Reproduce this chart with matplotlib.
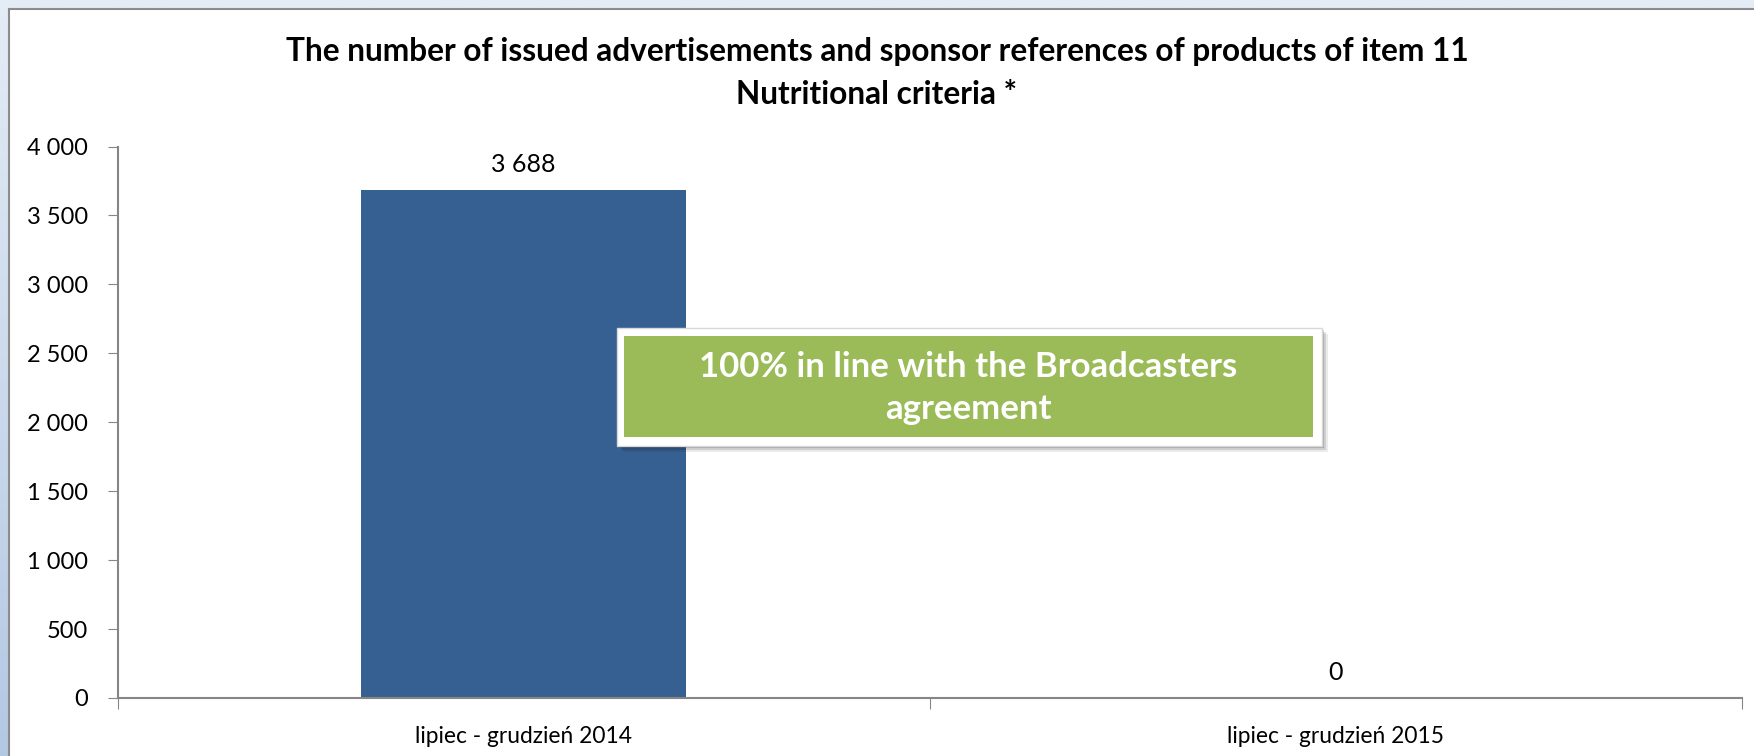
import numpy as np
import matplotlib.pyplot as plt
from matplotlib.patches import Rectangle

# data
categories = ['lipiec - grudzień 2014', 'lipiec - grudzień 2015']
values = [3688, 0]
yticks = [0, 500, 1000, 1500, 2000, 2500, 3000, 3500, 4000]

title = 'The number of issued advertisements and sponsor references of products of item 11\nNutritional criteria *'
note = '100% in line with the Broadcasters\nagreement'

plt.rcParams['font.family'] = ['Lato', 'DejaVu Sans']

W, H = 1754, 756
fig = plt.figure(figsize=(W / 100, H / 100), dpi=100)

# light blue frame behind the chart area
bg = fig.add_axes([0, 0, 1, 1], zorder=-10)
grad = np.linspace(0, 1, 256).reshape(-1, 1)
bg.imshow(grad, aspect='auto', cmap=plt.matplotlib.colors.LinearSegmentedColormap.from_list(
    'bgb', ['#e4ecf6', '#b3c8e3']), extent=[0, 1, 0, 1], origin='upper')
bg.set_axis_off()
bg.add_patch(Rectangle((9 / W, -0.1), 1.2, 1 - 9 / H + 0.1, transform=bg.transAxes,
                       facecolor='white', edgecolor='#8c8c8c', linewidth=1.5))
bg.set_xlim(0, 1)
bg.set_ylim(0, 1)

ax = fig.add_axes([117.5 / W, 1 - 698 / H, (1742 - 117.5) / W, (698 - 146.5) / H])
ax.set_facecolor('none')

x = np.arange(len(categories))
ax.bar(x, values, width=0.4, color='#366092', zorder=2)
for xi, v in zip(x, values):
    ax.text(xi, v + 100, f'{v:,}'.replace(',', ' '), ha='center', va='bottom', fontsize=18)

ax.set_xlim(-0.5, 1.5)
ax.set_ylim(0, 4000)
ax.set_yticks(yticks)
ax.set_yticklabels([f'{t:,}'.replace(',', ' ') for t in yticks], fontsize=17)
ax.set_xticks([-0.5, 0.5, 1.5])
ax.set_xticklabels([])
ax.set_xticks(x, minor=True)
ax.set_xticklabels(categories, minor=True, fontsize=16.4)
ax.tick_params(axis='x', which='minor', length=0, pad=20)
ax.tick_params(axis='x', which='major', length=8, color='#868686', direction='out')
ax.tick_params(axis='y', length=7, color='#868686', pad=14)
for s in ['top', 'right']:
    ax.spines[s].set_visible(False)
for s in ['left', 'bottom']:
    ax.spines[s].set_color('#868686')
    ax.spines[s].set_linewidth(1.5)

fig.text(877 / W, 1 - 73 / H, title, ha='center', va='center', fontsize=22.8,
         fontweight='bold', linespacing=1.55)

# green callout box with white border and soft shadow
for off, a in [(6, 0.08), (4, 0.12), (2, 0.18)]:
    fig.patches.append(Rectangle(((617 + off) / W, 1 - (446 + off) / H), 705 / W, 118 / H,
                                 transform=fig.transFigure, facecolor='black', alpha=a,
                                 edgecolor='none', zorder=5))
fig.patches.append(Rectangle((617 / W, 1 - 446 / H), 705 / W, 118 / H, transform=fig.transFigure,
                             facecolor='white', edgecolor='#d9d9d9', linewidth=1, zorder=6))
fig.patches.append(Rectangle((624 / W, 1 - 437 / H), 689 / W, 101 / H, transform=fig.transFigure,
                             facecolor='#9bbb59', edgecolor='none', zorder=7))
fig.text(968 / W, 1 - 388 / H, note, ha='center', va='center', fontsize=25, fontweight='bold',
         color='white', linespacing=1.38, zorder=8)

fig.savefig('out.png', dpi=100)
